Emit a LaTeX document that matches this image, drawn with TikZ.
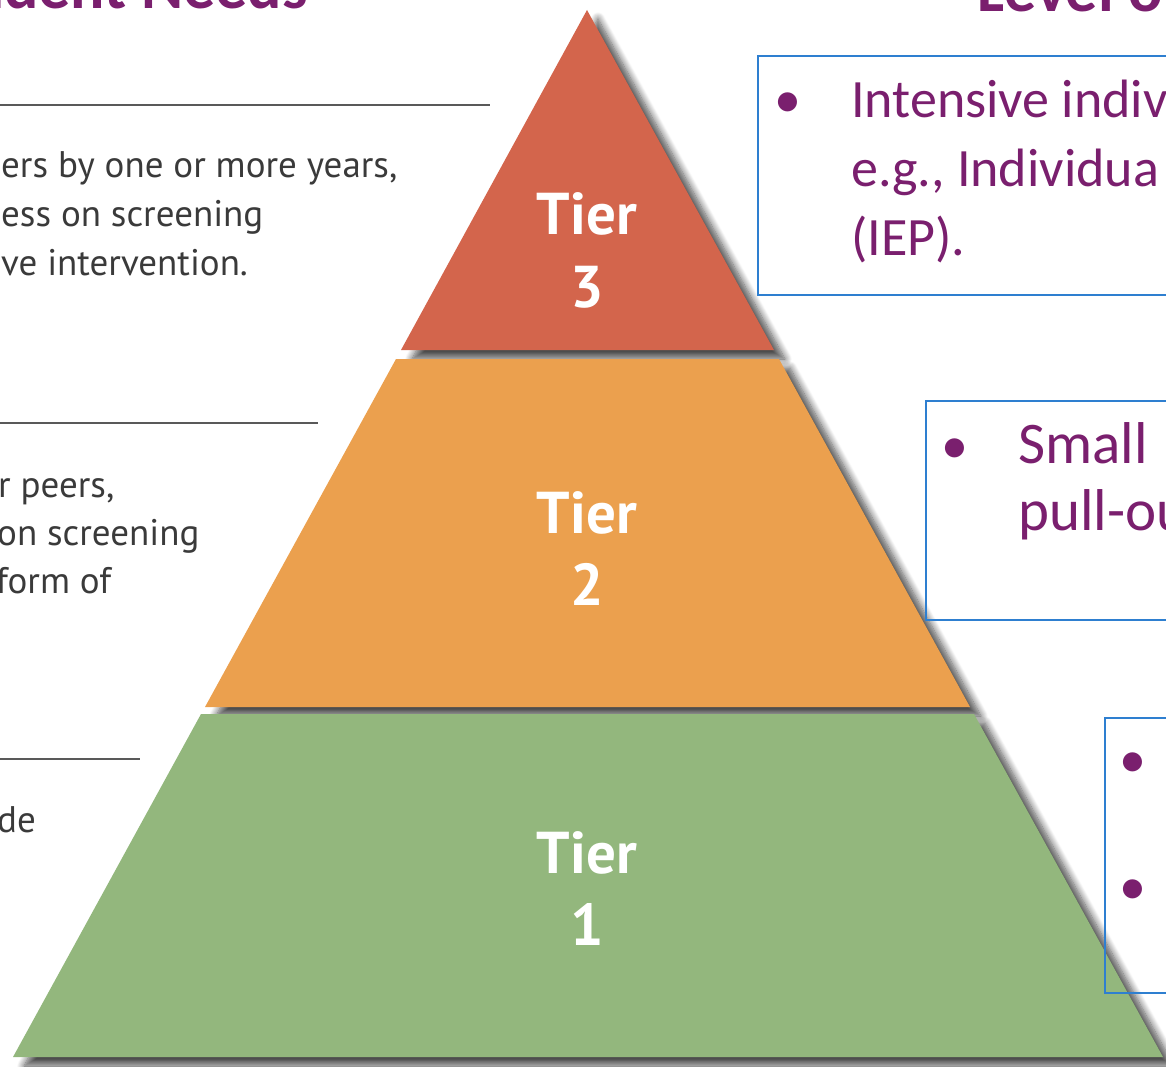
\documentclass[tikz,border=0pt]{standalone}
\usepackage{fontspec}
\setmainfont{Carlito}
\newfontfamily\ptsans{PT Sans}
\usetikzlibrary{shadows.blur}

\definecolor{tierred}{HTML}{D3654C}
\definecolor{tierorange}{HTML}{EBA04E}
\definecolor{tiergreen}{HTML}{93B77D}
\definecolor{plum}{HTML}{7A1F6E}
\definecolor{boxblue}{HTML}{2E7FD0}
\definecolor{bodygray}{HTML}{3A3A3A}

\begin{document}
\begin{tikzpicture}[x=1pt, y=-1pt,
  tier/.style={blur shadow={shadow xshift=11pt, shadow yshift=-9pt, shadow blur radius=7pt, shadow blur steps=10, shadow opacity=70}},
  tierlabel/.style={anchor=base, text=white, font=\ptsans\bfseries\fontsize{59}{72}\selectfont},
  lefttext/.style={anchor=base west, text=bodygray, font=\ptsans\fontsize{37}{48}\selectfont, inner sep=0pt},
  rule/.style={draw=black!65, line width=2.2pt},
  infobox/.style={draw=boxblue, line width=1.8pt},
  bullet/.style={anchor=base, text=plum, font=\fontsize{54}{66}\selectfont, inner sep=0pt},
  boxtext/.style={anchor=base west, text=plum, font=\fontsize{54}{68}\selectfont, inner sep=0pt},
  heading/.style={text=plum, font=\bfseries\fontsize{64}{70}\selectfont, inner sep=0pt}]

\useasboundingbox (0,0) rectangle (1166,1067);
\clip (0,0) rectangle (1166,1067);

\fill[tier, tierred] (587,10) -- (774,350) -- (401,350) -- cycle;
\fill[tier, tierorange] (396,359) -- (779,359) -- (970,707) -- (205,707) -- cycle;
\fill[tier, tiergreen] (201,714) -- (974,714) -- (1163,1057) -- (13,1057) -- cycle;

\node[tierlabel] (t3a) at (587,235) {Tier};
\node[tierlabel] (t3b) at (587,307) {3};
\node[tierlabel] (t2a) at (587,533) {Tier};
\node[tierlabel] (t2b) at (587,605) {2};
\node[tierlabel] (t1a) at (587,873) {Tier};
\node[tierlabel] (t1b) at (587,945) {1};

\node[heading, anchor=base east] (needs) at (308,9) {udent Needs};
\node[heading, anchor=base west] (levels) at (977,12) {Level o};

\draw[rule] (0,105) -- (490,105);
\node[lefttext] (l3a) at (1,178) {ers by one or more years,};
\node[lefttext] (l3b) at (1,227) {ess on screening};
\node[lefttext] (l3c) at (1,275) {ve intervention.};

\draw[rule] (0,423) -- (318,423);
\node[lefttext] (l2a) at (-2,497) {r peers,};
\node[lefttext] (l2b) at (-3,545) {on screening};
\node[lefttext] (l2c) at (-4,593) {form of};

\draw[rule] (0,759) -- (140,759);
\node[lefttext] (l1a) at (-3,832) {de};

\draw[infobox] (758,56) rectangle (1180,295);
\node[bullet] (b3) at (788,118) {•};
\node[boxtext] (r3a) at (851,118) {Intensive indiv};
\node[boxtext] (r3b) at (851,187) {e.g., Individua};
\node[boxtext] (r3c) at (851,255) {(IEP).};

\draw[infobox] (926,401) rectangle (1180,620);
\node[bullet] (b2) at (955,463) {•};
\node[boxtext, font=\fontsize{59}{70}\selectfont] (r2a) at (1018,463) {Small};
\node[boxtext, font=\fontsize{59}{70}\selectfont] (r2b) at (1018,530) {pull-ou};

\draw[infobox] (1105,718) rectangle (1180,993);
\node[bullet] (b1a) at (1133,777) {•};
\node[bullet] (b1b) at (1133,904) {•};
\end{tikzpicture}
\end{document}
